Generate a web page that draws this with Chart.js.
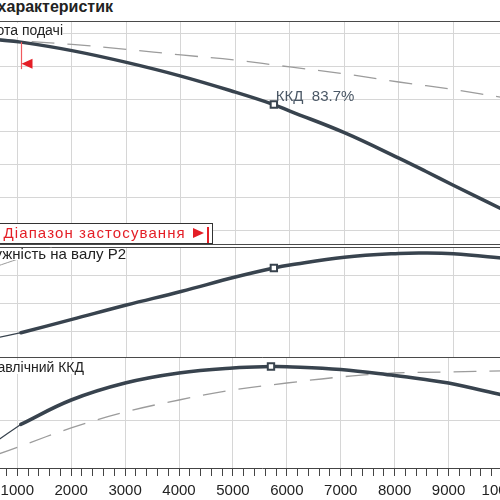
<!DOCTYPE html>
<html lang="uk">
<head>
<meta charset="utf-8">
<title>Графік характеристик</title>
<script src="https://cdn.jsdelivr.net/npm/chart.js@4.4.1/dist/chart.umd.min.js"></script>
<style>
  html, body { margin: 0; padding: 0; background: #fff; }
  body { width: 500px; height: 500px; overflow: hidden; position: relative;
         font-family: 'Liberation Sans', Arial, sans-serif; color: #222; }
  canvas { position: absolute; left: 0; }
  #headChart { top: 21px; }
  #powerChart { top: 247px; }
  #effChart { top: 357px; }
  .txt { position: absolute; white-space: nowrap; }
  .title { top: -1px; right: 387px; font-size: 16px; line-height: 16px; font-weight: bold; }
  .panel-label { background: #fff; }
  #headLabel { right: 437px; top: 22.5px; font-size: 14px; line-height: 14px; }
  #powerLabel { right: 374px; top: 248px; font-size: 15px; line-height: 12px; }
  #effLabel { right: 416px; top: 360px; font-size: 14px; line-height: 14px; }
  #dutyLabel { font-size: 15px; line-height: 15px; color: #4b5866; white-space: pre; }
  .range-box { position: absolute; left: -10px; top: 223px; width: 223px; height: 21px;
               box-sizing: border-box; border: 1px solid #333; background: #fff; }
  .range-text { left: 3.5px; top: 225px; font-size: 15px; line-height: 15px; letter-spacing: 1.1px; color: #e41e26; }
  .range-arrow { position: absolute; left: 193px; top: 228px; width: 0; height: 0;
                 border-top: 5px solid transparent; border-bottom: 5px solid transparent; border-left: 11px solid #e41e26; }
  .range-end { position: absolute; left: 207px; top: 227px; width: 2px; height: 16px; background: #e41e26; }
</style>
</head>
<body>
<canvas id="headChart" width="530" height="224"></canvas>
<canvas id="powerChart" width="530" height="110"></canvas>
<canvas id="effChart" width="530" height="143"></canvas>

<div class="txt title">Графік характеристик</div>
<div class="txt panel-label" id="headLabel">Висота подачі</div>
<div class="txt panel-label" id="powerLabel">Потужність на валу P2</div>
<div class="txt panel-label" id="effLabel">Гідравлічний ККД</div>
<div class="txt" id="dutyLabel"></div>

<div class="range-box"></div>
<div class="txt range-text">Діапазон застосування</div>
<div class="range-arrow"></div>
<div class="range-end"></div>

<script>
// Flow axis (visible window of the original chart)
const xMin = 679;
const xMax = 10408;

// Pump curves
const flows       = [600, 1064, 2000, 3000, 4000, 5000, 5706, 6000, 7000, 8000, 8500, 9000, 10000];
const headValues  = [10.83, 10.75, 10.49, 10.13, 9.71, 9.22, 8.84, 8.64, 7.98, 7.20, 6.79, 6.37, 5.55];
const powerValues = [0.875, 0.97, 1.207, 1.464, 1.705, 1.964, 2.125, 2.179, 2.318, 2.386, 2.393, 2.378, 2.295];
const effValues   = [36.3, 47.2, 62.6, 73.3, 79.6, 82.8, 83.7, 83.6, 81.8, 78.0, 75.8, 73.3, 65.8];

// Dashed reference curves
const refFlows    = [600, 1064, 2000, 3000, 4000, 5000, 6000, 7000, 8000, 9000, 10000];
const headRef     = [10.86, 10.79, 10.68, 10.53, 10.36, 10.20, 9.99, 9.78, 9.53, 9.30, 9.03];
const effRef      = [27.9, 33.6, 45.0, 55.0, 62.6, 68.9, 73.3, 77.1, 79.6, 80.2, 81.0];
const p2RefFlows  = [600, 2000];
const p2Ref       = [2.15, 2.61];

// Duty point and start of the operating range
const dutyFlow  = 5706;
const dutyHead  = 8.84;
const dutyPower = 2.125;
const dutyEff   = 83.7;
const rangeStart = 1064;

const curveColor = '#38434e';
const refColor = '#9c9c9c';
const gridColor = '#d6d6d6';
const red = '#e41e26';

function points(xs, ys) {
    return xs.map((x, i) => ({x: x, y: ys[i]}));
}

// split a curve into the part outside the operating range (thin) and inside (thick)
function outside(xs, ys) {
    return points(xs, ys).filter(p => p.x <= rangeStart);
}
function inside(xs, ys) {
    return points(xs, ys).filter(p => p.x >= rangeStart);
}

function solid(data, width) {
    return {
        data: data, borderColor: curveColor, borderWidth: width, pointRadius: 0,
        tension: 0.4, fill: false, order: 1, borderCapStyle: 'round', borderJoinStyle: 'round'
    };
}
function dashed(data, width) {
    return {
        data: data, borderColor: refColor, borderWidth: width || 1.3, borderDash: [23, 13],
        pointRadius: 0, tension: 0.4, fill: false, order: 2
    };
}
function dutyPoint(y) {
    return {
        data: [{x: dutyFlow, y: y}], showLine: false, pointStyle: 'rect', pointRadius: 4.5,
        pointBackgroundColor: '#fff', pointBorderColor: curveColor, pointBorderWidth: 2, order: 0
    };
}

// dark lines along the panel edges
const panelFrame = {
    id: 'panelFrame',
    beforeDatasetsDraw(chart, args, opts) {
        const {ctx, chartArea: a} = chart;
        ctx.save();
        ctx.strokeStyle = '#4a4a4a';
        ctx.lineWidth = 1;
        ctx.beginPath();
        if (opts.top) { ctx.moveTo(a.left, a.top + 0.5); ctx.lineTo(a.right, a.top + 0.5); }
        if (opts.bottom) { ctx.moveTo(a.left, a.bottom - 0.5); ctx.lineTo(a.right, a.bottom - 0.5); }
        ctx.stroke();
        ctx.restore();
    }
};

// red mark where the operating range starts (on the head curve)
const rangeMarker = {
    id: 'rangeMarker',
    afterDatasetsDraw(chart) {
        const {ctx, scales} = chart;
        const px = Math.round(scales.x.getPixelForValue(rangeStart)) + 0.5;
        const py = scales.y.getPixelForValue(headValues[flows.indexOf(rangeStart)]);
        ctx.save();
        ctx.strokeStyle = '#f05a5f';
        ctx.lineWidth = 1.2;
        ctx.beginPath();
        ctx.moveTo(px, py);
        ctx.lineTo(px, py + 27);
        ctx.stroke();
        ctx.fillStyle = red;
        ctx.beginPath();
        ctx.moveTo(px, py + 21.5);
        ctx.lineTo(px + 11, py + 16.5);
        ctx.lineTo(px + 11, py + 26.5);
        ctx.closePath();
        ctx.fill();
        ctx.restore();
    }
};

function makeChart(id, datasets, yMin, yMax, yStep, frame, isBottom, extraPlugins) {
    return new Chart(document.getElementById(id), {
        type: 'line',
        data: {datasets: datasets},
        plugins: [panelFrame].concat(extraPlugins || []),
        options: {
            responsive: false,
            animation: false,
            devicePixelRatio: 1,
            events: [],
            layout: {padding: 0, autoPadding: false},
            plugins: {legend: {display: false}, tooltip: {enabled: false}, panelFrame: frame},
            scales: {
                x: {
                    type: 'linear', min: xMin, max: xMax,
                    afterFit: s => { s.height = isBottom ? 32 : 0; },
                    border: {display: isBottom, color: '#444', width: 1},
                    grid: {
                        color: c => (c.tick && Math.round(c.tick.value) % 1000 === 0) ? gridColor : 'transparent',
                        drawTicks: isBottom, tickLength: 8, tickColor: '#444', tickWidth: 1
                    },
                    ticks: {
                        display: isBottom, stepSize: 200, autoSkip: false, includeBounds: false,
                        maxRotation: 0, padding: 6, color: '#222',
                        font: {family: "'Liberation Sans Narrow', 'Liberation Sans', Arial, sans-serif", size: 15},
                        callback: v => Math.round(v) % 1000 === 0 ? String(Math.round(v)) : ''
                    }
                },
                y: {
                    type: 'linear', min: yMin, max: yMax,
                    afterFit: s => { s.width = 0; },
                    border: {display: false},
                    grid: {color: gridColor, drawTicks: false},
                    ticks: {display: false, stepSize: yStep, includeBounds: false}
                }
            }
        }
    });
}

const headChart = makeChart('headChart', [
    dutyPoint(dutyHead),
    solid(points(flows, headValues), 3.5),
    dashed(points(refFlows, headRef))
], 4.541, 11.397, 1, {top: true, bottom: true}, false, [rangeMarker]);

makeChart('powerChart', [
    dutyPoint(dutyPower),
    solid(inside(flows, powerValues), 3.5),
    solid(outside(flows, powerValues), 1.2),
    dashed(points(p2RefFlows, p2Ref), 1)
], 0.536, 2.5, 0.5, {top: true, bottom: false}, false);

makeChart('effChart', [
    dutyPoint(dutyEff),
    solid(inside(flows, effValues), 3.5),
    solid(outside(flows, effValues), 1.2),
    dashed(points(refFlows, effRef))
], 19.76, 89.69, 50, {top: true, bottom: false}, true);

// efficiency note next to the duty point on the head curve
const dutyLabel = document.getElementById('dutyLabel');
dutyLabel.textContent = 'ККД  ' + dutyEff.toFixed(1) + '%';
const mx = headChart.scales.x.getPixelForValue(dutyFlow);
const my = headChart.scales.y.getPixelForValue(dutyHead);
dutyLabel.style.left = (mx + 2) + 'px';
dutyLabel.style.top = (21 + my - 4 - 12.7) + 'px';
</script>
</body>
</html>
